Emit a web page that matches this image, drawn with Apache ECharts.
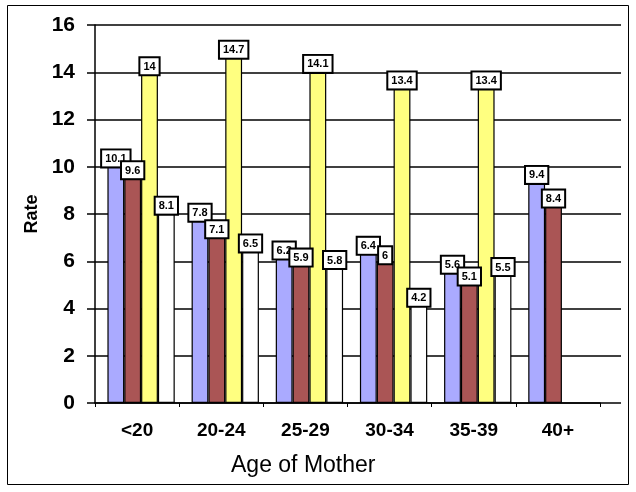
<!DOCTYPE html>
<html>
<head>
<meta charset="utf-8">
<script src="https://cdn.jsdelivr.net/npm/echarts@6/dist/echarts.min.js"></script>
<style>
  html, body { margin: 0; padding: 0; background: #fff; }
  #chart { width: 636px; height: 492px; }
</style>
</head>
<body>
<div id="chart"></div>
<script>
// Rate by age of mother, four series per age group
const ageGroups = ['<20', '20-24', '25-29', '30-34', '35-39', '40+'];
const seriesA = [10.1, 7.8, 6.2, 6.4, 5.6, 9.4];
const seriesB = [9.6, 7.1, 5.9, 6, 5.1, 8.4];
const seriesC = [14, 14.7, 14.1, 13.4, 13.4, null];
const seriesD = [8.1, 6.5, 5.8, 4.2, 5.5, null];
const yTicks = { min: 0, max: 16, interval: 2 };

const colors = ['#aaaaff', '#aa5555', '#ffff80', '#ffffff'];
const font = 'Arial, "Liberation Sans", sans-serif';

const plotTop = 25, plotBottom = 89;

function barSeries(data, color) {
  return {
    type: 'bar',
    xAxisIndex: 0,
    yAxisIndex: 0,
    data: data,
    barGap: '0%',
    barCategoryGap: '20%',
    itemStyle: { color: color, borderColor: '#000', borderWidth: 1.2 },
    label: {
      show: true,
      position: 'top',
      distance: -2,
      color: '#000',
      fontFamily: font,
      fontWeight: 'bold',
      fontSize: 11,
      backgroundColor: '#fff',
      borderColor: '#000',
      borderWidth: 2,
      padding: [3, 3, 2, 3]
    }
  };
}

function hiddenValueAxis(gridIndex) {
  return {
    type: 'value', gridIndex: gridIndex,
    min: yTicks.min, max: yTicks.max, interval: yTicks.interval,
    axisLine: { show: false }, axisTick: { show: false },
    axisLabel: { show: false }, splitLine: { show: false }
  };
}

const chart = echarts.init(document.getElementById('chart'), null, { renderer: 'canvas' });
chart.setOption({
  backgroundColor: '#fff',
  animation: false,
  grid: [
    // bars
    { left: 99, right: 32, top: plotTop, bottom: plotBottom },
    // category labels, centre ticks and value axis
    { left: 95, right: 36, top: plotTop, bottom: plotBottom },
    // horizontal gridlines across the full frame
    { left: 95, right: 15, top: plotTop, bottom: plotBottom },
    // short ticks at group boundaries
    { left: 95, right: 36, top: plotTop, bottom: plotBottom }
  ],
  xAxis: [
    {
      type: 'category', gridIndex: 0, data: ageGroups,
      axisLine: { show: false }, axisTick: { show: false }, axisLabel: { show: false }
    },
    {
      type: 'category', gridIndex: 1, data: ageGroups,
      axisLine: { lineStyle: { color: '#000', width: 1.5 } },
      axisTick: { alignWithLabel: true, length: 12, lineStyle: { color: '#000', width: 1.5 } },
      axisLabel: { color: '#000', fontFamily: font, fontWeight: 'bold', fontSize: 19, margin: 18 },
      z: 5
    },
    {
      type: 'category', gridIndex: 2, data: ageGroups, show: false
    },
    {
      type: 'category', gridIndex: 3, data: ageGroups,
      axisLine: { show: false },
      axisTick: { show: true, length: 4, lineStyle: { color: '#000', width: 1 } },
      axisLabel: { show: false }
    }
  ],
  yAxis: [
    hiddenValueAxis(0),
    {
      type: 'value', gridIndex: 1,
      min: yTicks.min, max: yTicks.max, interval: yTicks.interval,
      name: 'Rate',
      nameLocation: 'middle',
      nameGap: 45,
      nameTextStyle: { color: '#000', fontFamily: font, fontWeight: 'bold', fontSize: 18 },
      axisLine: { show: true, lineStyle: { color: '#000', width: 1.5 } },
      axisTick: { show: true, length: 8, lineStyle: { color: '#000', width: 1.5 } },
      axisLabel: { color: '#000', fontFamily: font, fontWeight: 'bold', fontSize: 21, margin: 20 },
      splitLine: { show: false },
      z: 5
    },
    {
      type: 'value', gridIndex: 2,
      min: yTicks.min, max: yTicks.max, interval: yTicks.interval,
      axisLine: { show: false }, axisTick: { show: false }, axisLabel: { show: false },
      splitLine: { show: true, lineStyle: { color: '#000', width: 1.5 } },
      z: 0
    },
    hiddenValueAxis(3)
  ],
  series: [
    barSeries(seriesA, colors[0]),
    barSeries(seriesB, colors[1]),
    barSeries(seriesC, colors[2]),
    barSeries(seriesD, colors[3])
  ],
  graphic: [
    {
      type: 'rect',
      shape: { x: 7.5, y: 5.5, width: 621, height: 479 },
      style: { fill: null, stroke: '#000', lineWidth: 1 },
      silent: true
    },
    {
      type: 'text',
      left: 231,
      top: 454,
      style: { text: 'Age of Mother', fill: '#000', font: '23px ' + font }
    }
  ]
});
</script>
</body>
</html>
